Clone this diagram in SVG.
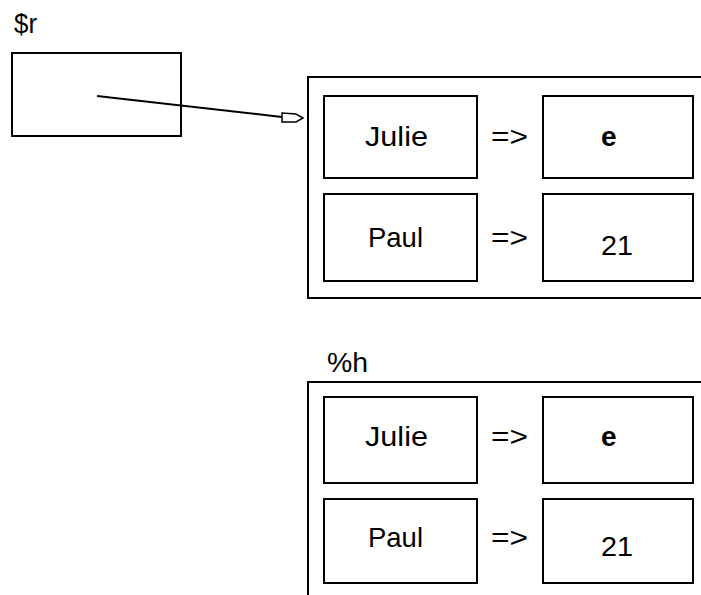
<svg xmlns="http://www.w3.org/2000/svg" width="701" height="595" viewBox="0 0 701 595">
<style>
.box{fill:none;stroke:#000;stroke-width:2}
.t{font-family:"Liberation Sans",Arial,sans-serif;font-size:28px;fill:#000}
.b{font-weight:bold}
</style>
<rect width="701" height="595" fill="#fff"/>
<g id="ref">
<text class="t" x="14" y="33" font-size="25" textLength="23" lengthAdjust="spacingAndGlyphs">$r</text>
<rect class="box" x="12" y="53" width="169" height="83"/>
</g>
<g id="hash-top">
<rect class="box" x="308" y="77" width="420" height="221"/>
<g id="top-julie"><rect class="box" x="324" y="96" width="153" height="82"/><text class="t" x="365" y="146" textLength="63" lengthAdjust="spacingAndGlyphs">Julie</text></g>
<text class="t" x="491" y="146" textLength="37" lengthAdjust="spacingAndGlyphs">=&gt;</text>
<g id="top-e"><rect class="box" x="543" y="96" width="150" height="82"/><text class="t b" x="601" y="146">e</text></g>
<g id="top-paul"><rect class="box" x="324" y="194" width="153" height="87"/><text class="t" x="368" y="247" textLength="55" lengthAdjust="spacingAndGlyphs">Paul</text></g>
<text class="t" x="491" y="247" textLength="37" lengthAdjust="spacingAndGlyphs">=&gt;</text>
<g id="top-21"><rect class="box" x="543" y="194" width="150" height="87"/><text class="t" x="601" y="255" textLength="32" lengthAdjust="spacingAndGlyphs">21</text></g>
</g>
<g id="hash-h">
<text class="t" x="327" y="372" textLength="41" lengthAdjust="spacingAndGlyphs">%h</text>
<rect class="box" x="308" y="382" width="420" height="240"/>
<g id="h-julie"><rect class="box" x="324" y="397" width="153" height="86"/><text class="t" x="365" y="446" textLength="63" lengthAdjust="spacingAndGlyphs">Julie</text></g>
<text class="t" x="491" y="446" textLength="37" lengthAdjust="spacingAndGlyphs">=&gt;</text>
<g id="h-e"><rect class="box" x="543" y="397" width="150" height="86"/><text class="t b" x="601" y="446">e</text></g>
<g id="h-paul"><rect class="box" x="324" y="499" width="153" height="84"/><text class="t" x="368" y="547" textLength="55" lengthAdjust="spacingAndGlyphs">Paul</text></g>
<text class="t" x="491" y="547" textLength="37" lengthAdjust="spacingAndGlyphs">=&gt;</text>
<g id="h-21"><rect class="box" x="543" y="499" width="150" height="84"/><text class="t" x="601" y="556" textLength="32" lengthAdjust="spacingAndGlyphs">21</text></g>
</g>
<g id="connectors">
<line x1="97" y1="96" x2="282" y2="117" stroke="#000" stroke-width="2"/>
<polygon points="282,113 296,114 303,118 296,122 282,122" fill="#fff" stroke="#000" stroke-width="1.5"/>
</g>
</svg>
